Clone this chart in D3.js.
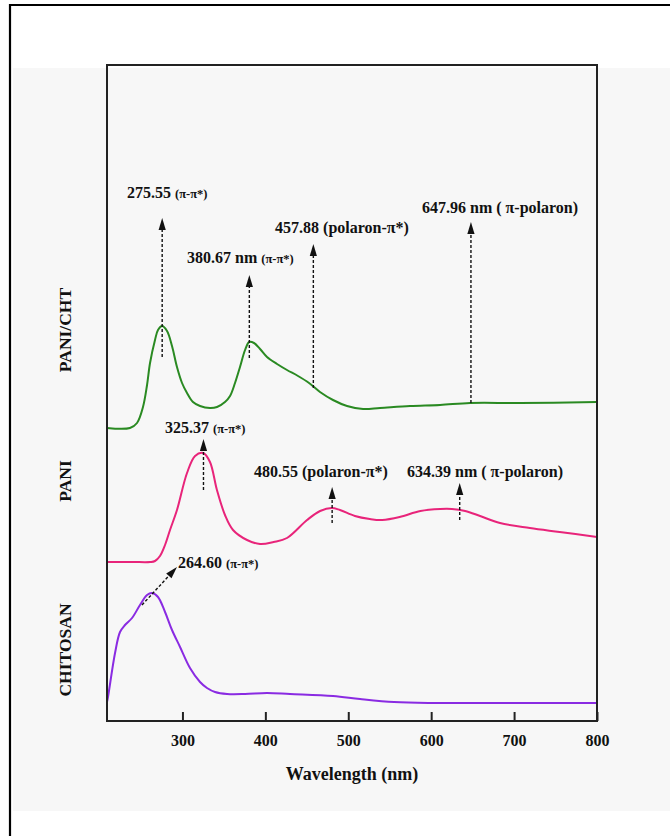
<!DOCTYPE html>
<html>
<head>
<meta charset="utf-8">
<script src="https://cdn.jsdelivr.net/npm/d3@7"></script>
<style>
  html, body { margin: 0; padding: 0; background: #fff; }
  svg { display: block; }
  text { font-family: "Liberation Serif", "Times New Roman", serif; font-weight: bold; fill: #111; }
</style>
</head>
<body>
<svg id="chart" width="670" height="836"></svg>
<script>
// ---------- data (wavelength in nm, absorbance in arbitrary stacked units) ----------
const chitosanWl = [209, 210.2, 218.7, 224.7, 230.7, 239.2, 248.8, 257.3, 263.3, 270.5, 279, 287.4, 297.1, 309.1, 321.2, 329.6, 339.3, 353.8, 375.5, 402, 429.7, 481.6, 514.2, 555.2, 598.6, 683, 800];
const chitosanAbs = [0.095, 0.12, 0.34, 0.445, 0.48, 0.515, 0.58, 0.63, 0.64, 0.62, 0.545, 0.455, 0.37, 0.265, 0.195, 0.165, 0.145, 0.135, 0.135, 0.14, 0.135, 0.125, 0.11, 0.095, 0.09, 0.09, 0.09];

const paniWl = [209, 240, 261, 266.9, 272.9, 279, 285, 293.4, 305.5, 315.2, 325, 333.2, 341.6, 351.3, 361, 377.9, 393.6, 410, 426.1, 450.3, 466, 480, 490, 508, 526, 541, 562, 587, 611, 625, 641, 659, 683, 719, 755, 800];
const paniAbs = [0.795, 0.795, 0.795, 0.80, 0.825, 0.88, 0.955, 1.055, 1.24, 1.325, 1.34, 1.295, 1.155, 1.03, 0.955, 0.905, 0.885, 0.895, 0.915, 1.005, 1.05, 1.065, 1.055, 1.025, 1.01, 1.005, 1.02, 1.05, 1.06, 1.06, 1.05, 1.025, 0.99, 0.965, 0.945, 0.92];

const paniChtWl = [209, 236.7, 245.2, 252.4, 257.3, 260.9, 266.9, 270.5, 275.5, 281.4, 287.4, 293.4, 299.5, 305.5, 312.7, 321.2, 333.2, 341.7, 351.3, 357.4, 363.4, 369.4, 375.5, 380.5, 386.3, 393.6, 402, 414.1, 426.1, 439.4, 452.7, 465.9, 481.6, 498.5, 517.8, 538.3, 574.5, 610.7, 647, 707.2, 800];
const paniChtAbs = [1.465, 1.465, 1.49, 1.57, 1.68, 1.79, 1.905, 1.955, 1.975, 1.95, 1.875, 1.77, 1.69, 1.64, 1.595, 1.575, 1.565, 1.57, 1.595, 1.625, 1.69, 1.77, 1.855, 1.895, 1.89, 1.86, 1.82, 1.785, 1.755, 1.725, 1.69, 1.645, 1.605, 1.575, 1.56, 1.565, 1.575, 1.58, 1.59, 1.59, 1.595];

const seriesNames = ["CHITOSAN", "PANI", "PANI/CHT"];
const seriesColors = ["#8a2be2", "#e8247a", "#2a8a22"];
const seriesLabelAbs = [0.355, 1.2, 1.955];   // vertical centre of each side label

const xTicks = [300, 400, 500, 600, 700, 800];

// annotations: peak wavelength, arrow tail/head (absorbance), label anchor (nm, absorbance), text parts
const annWl    = [275.55, 380.67, 457.88, 647.96, 325.37, 480.55, 634.39, 251.2];
const annTail  = [1.82, 1.815, 1.665, 1.59, 1.155, 0.99, 1.005, 0.58];
const annHeadWl= [275.55, 380.67, 457.88, 647.96, 325.37, 480.55, 634.39, 293.4];
const annHead  = [2.515, 2.23, 2.385, 2.495, 1.41, 1.17, 1.19, 0.77];
const annLabelWl  = [233.1, 305.5, 411.7, 589, 279, 386.3, 570.9, 294.6];
const annLabelAbs = [2.615, 2.29, 2.44, 2.54, 1.44, 1.22, 1.22, 0.765];
const annMain  = ["275.55 ", "380.67 nm ", "457.88 (polaron-π*)", "647.96 nm ( π-polaron)", "325.37 ", "480.55 (polaron-π*)", "634.39 nm ( π-polaron)", "264.60 "];
const annSmall = ["(π-π*)", "(π-π*)", "", "", "(π-π*)", "", "", "(π-π*)"];

// ---------- layout ----------
const svg = d3.select("#chart");
const L = 107, R = 597, T = 65, B = 721;

const x = d3.scaleLinear().domain([209, 800]).range([L, R]);
const y = d3.scaleLinear().domain([0, 3.28]).range([B, T]);

// page background / frame
svg.append("rect").attr("x", 13).attr("y", 68).attr("width", 657).attr("height", 743).attr("fill", "#f7f7f7");
svg.append("path").attr("d", "M10,836 V5 H670").attr("fill", "none").attr("stroke", "#000").attr("stroke-width", 2.2);

// curves
const curves = [
  chitosanWl.map((w, i) => [w, chitosanAbs[i]]),
  paniWl.map((w, i) => [w, paniAbs[i]]),
  paniChtWl.map((w, i) => [w, paniChtAbs[i]])
];
const line = d3.line().x(d => x(d[0])).y(d => y(d[1])).curve(d3.curveCatmullRom.alpha(0.5));
curves.forEach((c, i) => {
  svg.append("path").datum(c).attr("d", line)
    .attr("fill", "none").attr("stroke", seriesColors[i]).attr("stroke-width", 2)
    .attr("stroke-linejoin", "round");
});

// axes
const xAxis = d3.axisBottom(x).tickValues(xTicks).tickSizeInner(-9).tickSizeOuter(0).tickPadding(0);
const gx = svg.append("g").attr("transform", `translate(0,${B})`).call(xAxis);
gx.select(".domain").remove();
gx.selectAll(".tick line").attr("stroke", "#222").attr("stroke-width", 2);
gx.selectAll(".tick text").attr("y", 25).attr("dy", 0).attr("font-size", 16)
  .attr("font-family", "Liberation Serif").attr("font-weight", "bold").attr("fill", "#111");

// plot frame
svg.append("rect").attr("x", L).attr("y", T).attr("width", R - L).attr("height", B - T)
  .attr("fill", "none").attr("stroke", "#222").attr("stroke-width", 2);

// axis title
svg.append("text").attr("x", (L + R) / 2).attr("y", 780).attr("text-anchor", "middle")
  .attr("font-size", 18).text("Wavelength (nm)");

// side labels
seriesNames.forEach((n, i) => {
  svg.append("text")
    .attr("transform", `translate(71,${y(seriesLabelAbs[i])}) rotate(-90)`)
    .attr("text-anchor", "middle").attr("font-size", 17.5).text(n);
});

// annotations
annWl.forEach((w, i) => {
  const x0 = x(w), y0 = y(annTail[i]);
  const x1 = x(annHeadWl[i]), y1 = y(annHead[i]);
  const ang = Math.atan2(y1 - y0, x1 - x0);
  const hl = 12, hw = 3.6;
  const bx = x1 - hl * Math.cos(ang), by = y1 - hl * Math.sin(ang);
  svg.append("line").attr("x1", x0).attr("y1", y0).attr("x2", bx).attr("y2", by)
    .attr("stroke", "#111").attr("stroke-width", 1.4).attr("stroke-dasharray", "3,2");
  const px = -Math.sin(ang), py = Math.cos(ang);
  svg.append("path")
    .attr("d", `M${x1},${y1} L${bx + px * hw},${by + py * hw} L${bx - px * hw},${by - py * hw} Z`)
    .attr("fill", "#111");
  const t = svg.append("text").attr("x", x(annLabelWl[i])).attr("y", y(annLabelAbs[i])).attr("font-size", 16);
  t.append("tspan").text(annMain[i]);
  if (annSmall[i]) t.append("tspan").attr("font-size", 12.5).text(annSmall[i]);
});
</script>
</body>
</html>
